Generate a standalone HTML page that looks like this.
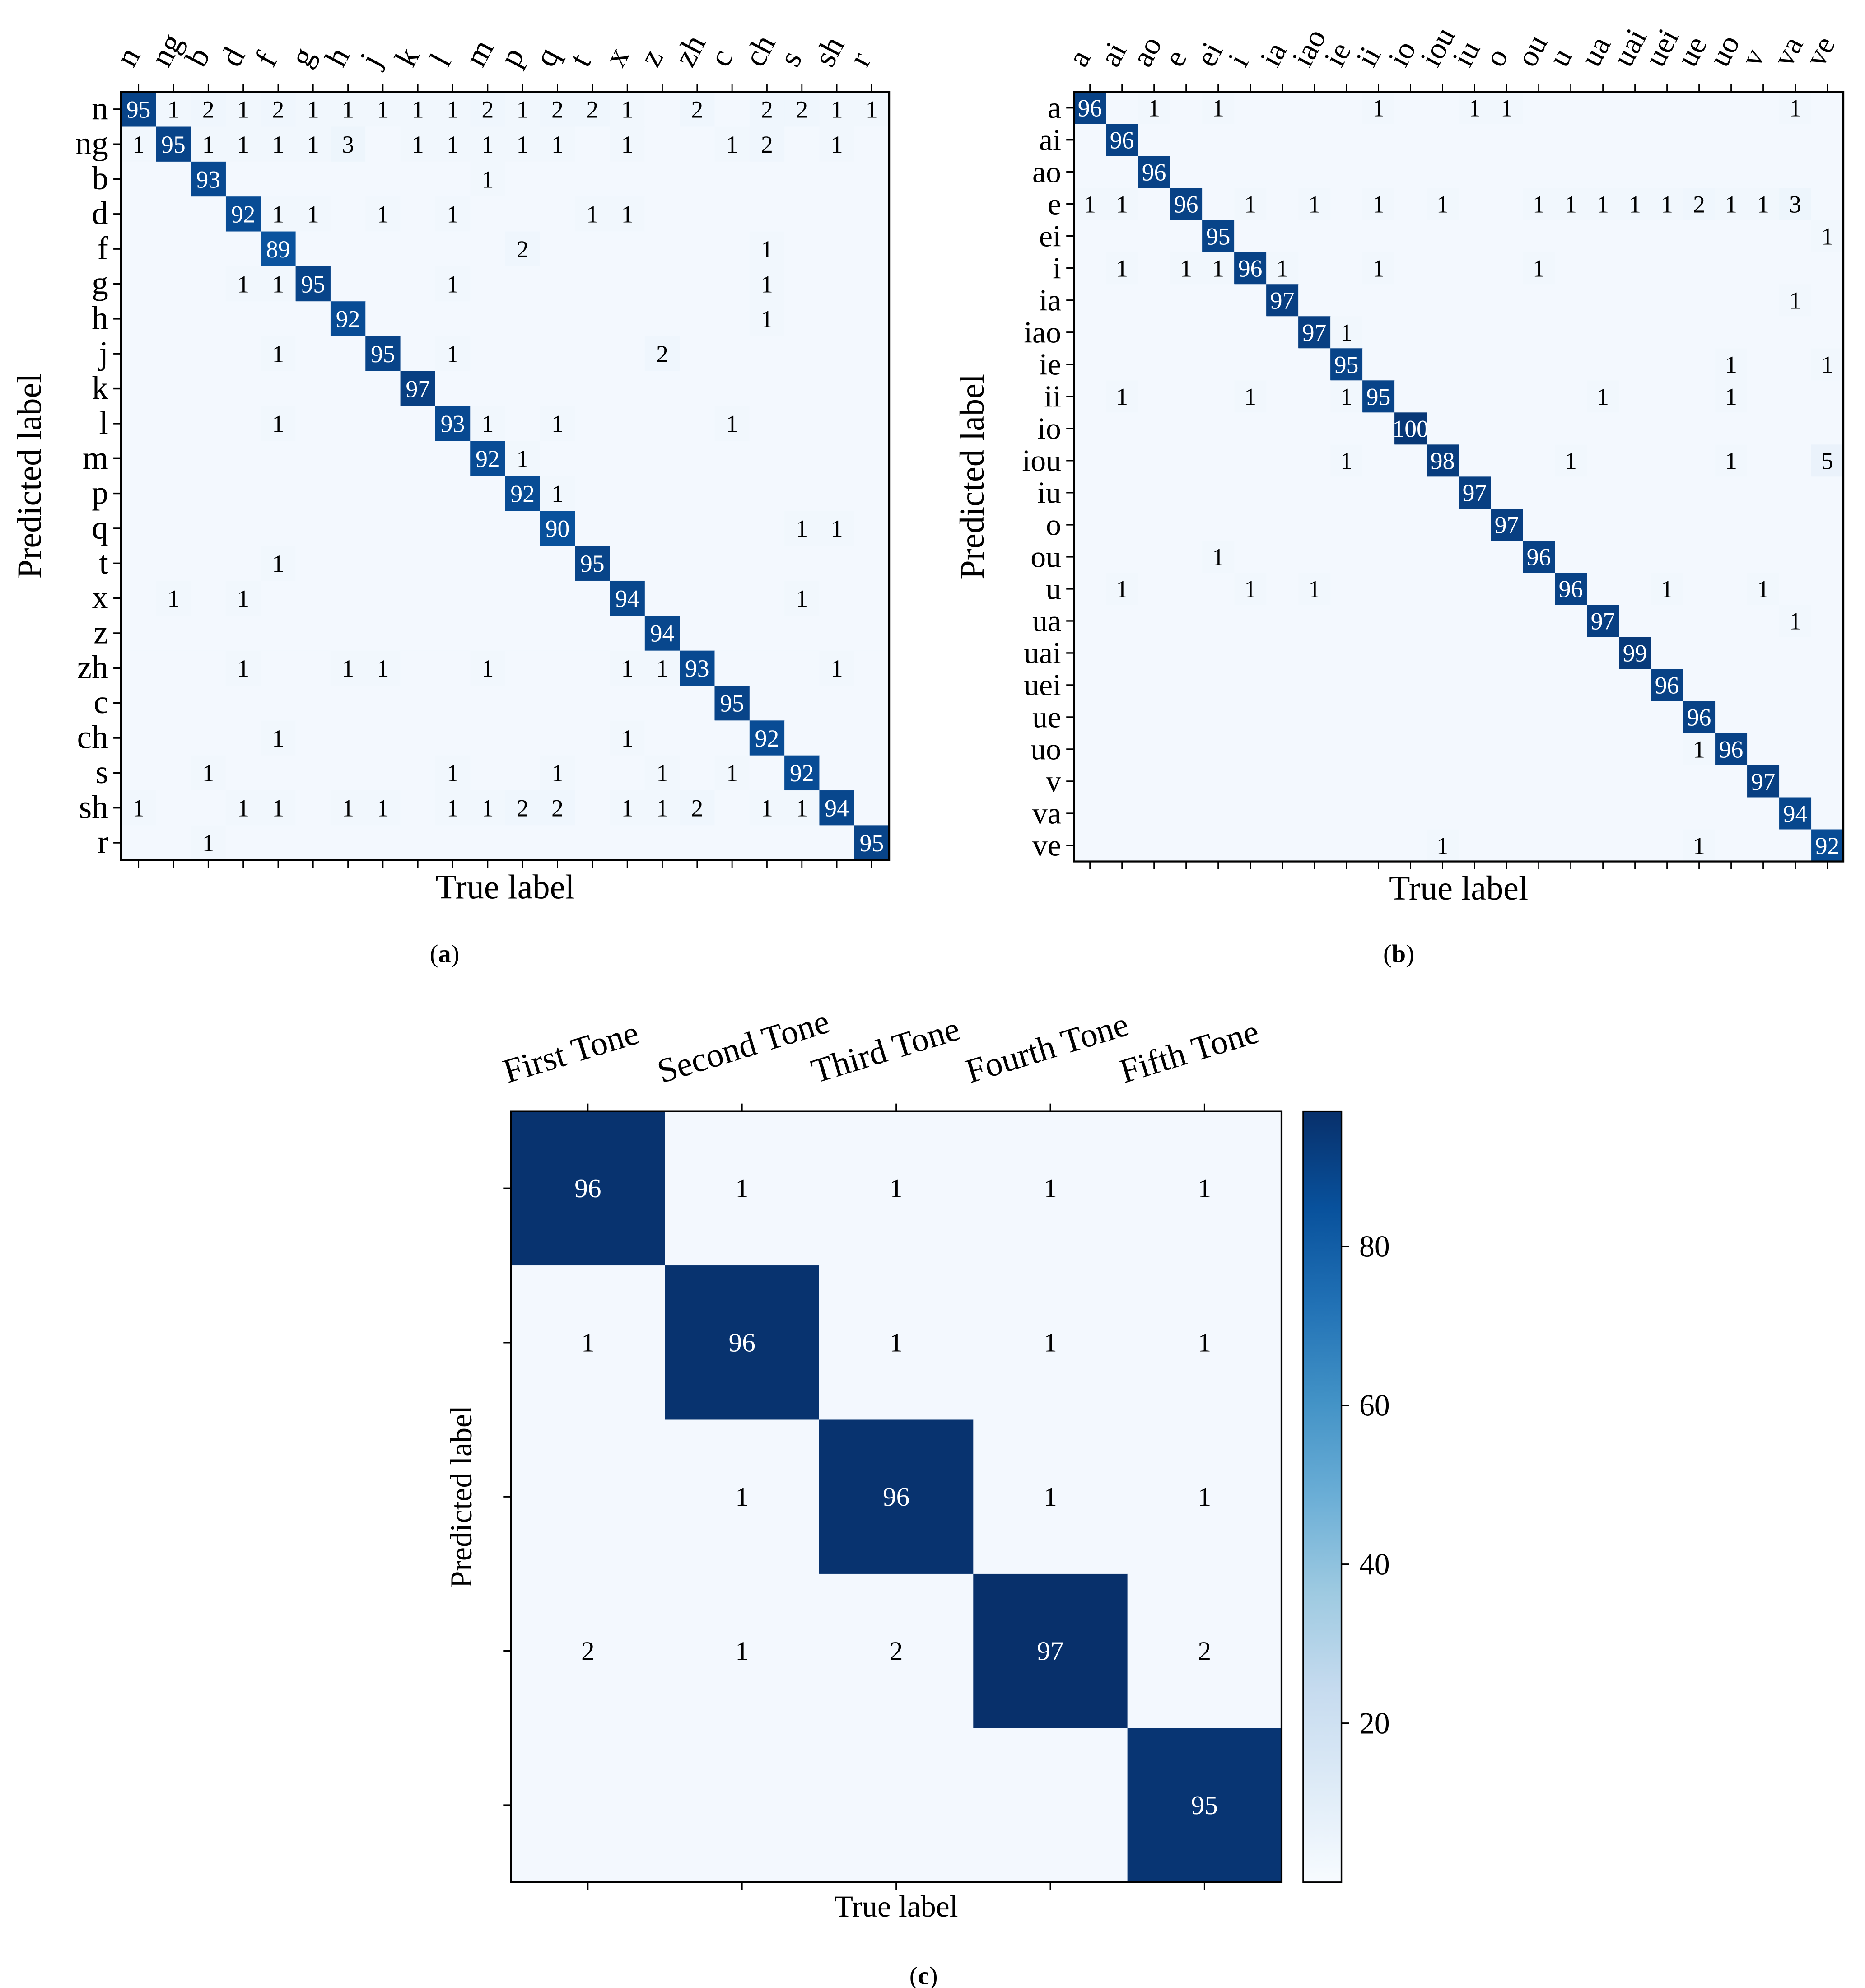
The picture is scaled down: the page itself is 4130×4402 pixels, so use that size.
<!DOCTYPE html>
<html><head><meta charset="utf-8">
<style>
html,body{margin:0;padding:0;background:#fff;}
svg{display:block;}
text{font-family:"Liberation Serif",serif;fill:#000;}
</style></head>
<body>
<svg id="fig" xmlns="http://www.w3.org/2000/svg" width="4130" height="4402" viewBox="0 0 1464 1560" preserveAspectRatio="none">
<rect x="0" y="0" width="1464" height="1560" fill="#fff"/>
<g id="ga"></g>
<g id="gb"></g>
<g id="gc"></g>
<text x="349" y="755" font-size="20" text-anchor="middle">(<tspan font-weight="bold">a</tspan>)</text>
<text x="1098" y="755" font-size="20" text-anchor="middle">(<tspan font-weight="bold">b</tspan>)</text>
<text x="725" y="1557" font-size="20" text-anchor="middle">(<tspan font-weight="bold">c</tspan>)</text>
</svg>
<script>
const labelsA = ["n","ng","b","d","f","g","h","j","k","l","m","p","q","t","x","z","zh","c","ch","s","sh","r"];
const diagA = [95,95,93,92,89,95,92,95,97,93,92,92,90,95,94,94,93,95,92,92,94,95];
const offA = [
[0,1,1],[0,2,2],[0,3,1],[0,4,2],[0,5,1],[0,6,1],[0,7,1],[0,8,1],[0,9,1],[0,10,2],[0,11,1],[0,12,2],[0,13,2],[0,14,1],[0,16,2],[0,18,2],[0,19,2],[0,20,1],[0,21,1],
[1,0,1],[1,2,1],[1,3,1],[1,4,1],[1,5,1],[1,6,3],[1,8,1],[1,9,1],[1,10,1],[1,11,1],[1,12,1],[1,14,1],[1,17,1],[1,18,2],[1,20,1],
[2,10,1],
[3,4,1],[3,5,1],[3,7,1],[3,9,1],[3,13,1],[3,14,1],
[4,11,2],[4,18,1],
[5,3,1],[5,4,1],[5,9,1],[5,18,1],
[6,18,1],
[7,4,1],[7,9,1],[7,15,2],
[9,4,1],[9,10,1],[9,12,1],[9,17,1],
[10,11,1],[11,12,1],[12,19,1],[12,20,1],[13,4,1],
[14,1,1],[14,3,1],[14,19,1],
[16,3,1],[16,6,1],[16,7,1],[16,10,1],[16,14,1],[16,15,1],[16,20,1],
[18,4,1],[18,14,1],
[19,2,1],[19,9,1],[19,12,1],[19,15,1],[19,17,1],
[20,0,1],[20,3,1],[20,4,1],[20,6,1],[20,7,1],[20,9,1],[20,10,1],[20,11,2],[20,12,2],[20,14,1],[20,15,1],[20,16,2],[20,18,1],[20,19,1],
[21,2,1]
];
const labelsB = ["a","ai","ao","e","ei","i","ia","iao","ie","ii","io","iou","iu","o","ou","u","ua","uai","uei","ue","uo","v","va","ve"];
const diagB = [96,96,96,96,95,96,97,97,95,95,100,98,97,97,96,96,97,99,96,96,96,97,94,92];
const offB = [
[0,2,1],[0,4,1],[0,9,1],[0,12,1],[0,13,1],[0,22,1],
[3,0,1],[3,1,1],[3,5,1],[3,7,1],[3,9,1],[3,11,1],[3,14,1],[3,15,1],[3,16,1],[3,17,1],[3,18,1],[3,19,2],[3,20,1],[3,21,1],[3,22,3],
[4,23,1],
[5,1,1],[5,3,1],[5,4,1],[5,6,1],[5,9,1],[5,14,1],
[6,22,1],[7,8,1],[8,20,1],[8,23,1],
[9,1,1],[9,5,1],[9,8,1],[9,16,1],[9,20,1],
[11,8,1],[11,15,1],[11,20,1],[11,23,5],
[14,4,1],
[15,1,1],[15,5,1],[15,7,1],[15,18,1],[15,21,1],
[16,22,1],[20,19,1],[23,11,1],[23,19,1]
];
const labelsC = ["First Tone","Second Tone","Third Tone","Fourth Tone","Fifth Tone"];
const matrixC = [[96,1,1,1,1],[1,96,1,1,1],[0,1,96,1,1],[2,1,2,97,2],[0,0,0,0,95]];
const cbarTicks = [20,40,60,80];

const NS="http://www.w3.org/2000/svg";
const stops=["#f7fbff","#deebf7","#c6dbef","#9ecae1","#6baed6","#4292c6","#2171b5","#08519c","#08306b"];
function hex(h){return [1,3,5].map(i=>parseInt(h.substr(i,2),16));}
function blues(t){t=Math.max(0,Math.min(1,t));const p=t*8,i=Math.min(7,Math.floor(p)),f=p-i;const a=hex(stops[i]),b=hex(stops[i+1]);
return "rgb("+a.map((v,k)=>Math.round(v+(b[k]-v)*f)).join(",")+")";}
function mk(parent,tag,attrs,txt){const e=document.createElementNS(NS,tag);for(const k in attrs)e.setAttribute(k,attrs[k]);if(txt!==undefined)e.textContent=txt;parent.appendChild(e);return e;}

function matrix(g,labels,diag,off,x0,y0,size,opt){
  const n=labels.length,cw=size/n;
  const M=labels.map(()=>labels.map(()=>0));
  diag.forEach((v,i)=>{M[i][i]=v;});
  off.forEach(([r,c,v])=>{M[r][c]=v;});
  const xs=i=>x0+cw*(i+0.5), ys=i=>y0+cw*(i+0.5);
  for(let r=0;r<n;r++)for(let c=0;c<n;c++){
    const v=M[r][c];
    const rc=mk(g,"rect",{x:x0+c*cw,y:y0+r*cw,width:cw+0.3,height:cw+0.3,fill:blues(v/opt.vmax*0.95+0.02)});
    
    
    if(v>0){
      const t=mk(g,"text",{x:xs(c),y:ys(r)+opt.fs*0.35,"font-size":opt.fs,"text-anchor":"middle",style:"fill:"+(v>50?"#fff":"#000")},v);
      
      
    }
  }
  mk(g,"rect",{x:x0,y:y0,width:size,height:size,fill:"none",stroke:"#000","stroke-width":1.5});
  for(let i=0;i<n;i++){
    mk(g,"line",{x1:xs(i),x2:xs(i),y1:y0-6,y2:y0,stroke:"#000","stroke-width":1});
    mk(g,"line",{x1:xs(i),x2:xs(i),y1:y0+size,y2:y0+size+6,stroke:"#000","stroke-width":1});
    mk(g,"line",{x1:x0-6,x2:x0,y1:ys(i),y2:ys(i),stroke:"#000","stroke-width":1.2});
    if(opt.rowLabels){
      const t=mk(g,"text",{x:x0-10,y:ys(i)+8,"font-size":opt.lfs,"text-anchor":"end"},labels[i]);
      
      
    }
    const cx=xs(i)+opt.cdx, cy=y0-opt.cdy;
    const t2=mk(g,"text",{x:cx,y:cy,"font-size":opt.cfs,"text-anchor":"start",transform:"rotate("+opt.rot+" "+cx+" "+cy+")"},labels[i]);
    
    
  }
  const tx=mk(g,"text",{x:x0+size/2,y:y0+size+opt.tdy,"font-size":opt.tfs,"text-anchor":"middle"},"True label");
  
  
  const py=y0+size/2, px=opt.px;
  const ty=mk(g,"text",{x:px,y:py,"font-size":opt.tfs,"text-anchor":"middle",transform:"rotate(-90 "+px+" "+py+")"},"Predicted label");
  
  
}
matrix(document.getElementById("ga"),labelsA,diagA,offA,95,72,603,{vmax:100,fs:19,lfs:26,cfs:25,rot:-62,cdx:-4,cdy:18,tdy:30,tfs:27,px:32,rowLabels:true});
matrix(document.getElementById("gb"),labelsB,diagB,offB,843,72,604,{vmax:100,fs:19,lfs:24,cfs:24,rot:-62,cdx:-4,cdy:18,tdy:30,tfs:27,px:772,rowLabels:true});

// chart c
(function(){
  const g=document.getElementById("gc");
  const x0=401,y0=872,size=605,n=5,cw=size/n,vmin=0,vmax=97;
  const xs=i=>x0+cw*(i+0.5), ys=i=>y0+cw*(i+0.5);
  for(let r=0;r<n;r++)for(let c=0;c<n;c++){
    const v=matrixC[r][c];
    const rc=mk(g,"rect",{x:x0+c*cw,y:y0+r*cw,width:cw+0.3,height:cw+0.3,fill:blues(v>50?v/vmax:0.02)});
    
    
    if(v>0){
      const t=mk(g,"text",{x:xs(c),y:ys(r)+7,"font-size":21,"text-anchor":"middle",style:"fill:"+(v>50?"#fff":"#000")},v);
      
      
    }
  }
  mk(g,"rect",{x:x0,y:y0,width:size,height:size,fill:"none",stroke:"#000","stroke-width":1.5});
  for(let i=0;i<n;i++){
    mk(g,"line",{x1:xs(i),x2:xs(i),y1:y0-6,y2:y0,stroke:"#000"});
    mk(g,"line",{x1:xs(i),x2:xs(i),y1:y0+size,y2:y0+size+6,stroke:"#000"});
    mk(g,"line",{x1:x0-6,x2:x0,y1:ys(i),y2:ys(i),stroke:"#000","stroke-width":1.2});
    const cx=xs(i)-63, cy=850;
    const t=mk(g,"text",{x:cx,y:cy,"font-size":27,"text-anchor":"start",transform:"rotate(-17 "+cx+" "+cy+")"},labelsC[i]);
    
    
  }
  const tx=mk(g,"text",{x:x0+size/2,y:y0+size+27,"font-size":24,"text-anchor":"middle"},"True label");
  
  
  const py=y0+size/2;
  const ty=mk(g,"text",{x:370,y:py,"font-size":24,"text-anchor":"middle",transform:"rotate(-90 370 "+py+")"},"Predicted label");
  
  
  // colorbar
  const bx=1023,bw=30;
  const defs=mk(g,"defs",{});
  const lg=mk(defs,"linearGradient",{id:"cbg",x1:0,y1:1,x2:0,y2:0});
  for(let k=0;k<=8;k++)mk(lg,"stop",{offset:k/8,"stop-color":stops[k]});
  const cb=mk(g,"rect",{x:bx,y:y0,width:bw,height:size,fill:"url(#cbg)",stroke:"#000","stroke-width":1.2});
  
  
  const yv=v=>y0+size-(v-vmin)/(vmax-vmin)*size;
  cbarTicks.forEach(v=>{
    mk(g,"line",{x1:bx+bw,x2:bx+bw+6,y1:yv(v),y2:yv(v),stroke:"#000","stroke-width":1.2});
    const t=mk(g,"text",{x:bx+bw+14,y:yv(v)+8,"font-size":24},v);
    
    
  });
})();
</script>
</body></html>
